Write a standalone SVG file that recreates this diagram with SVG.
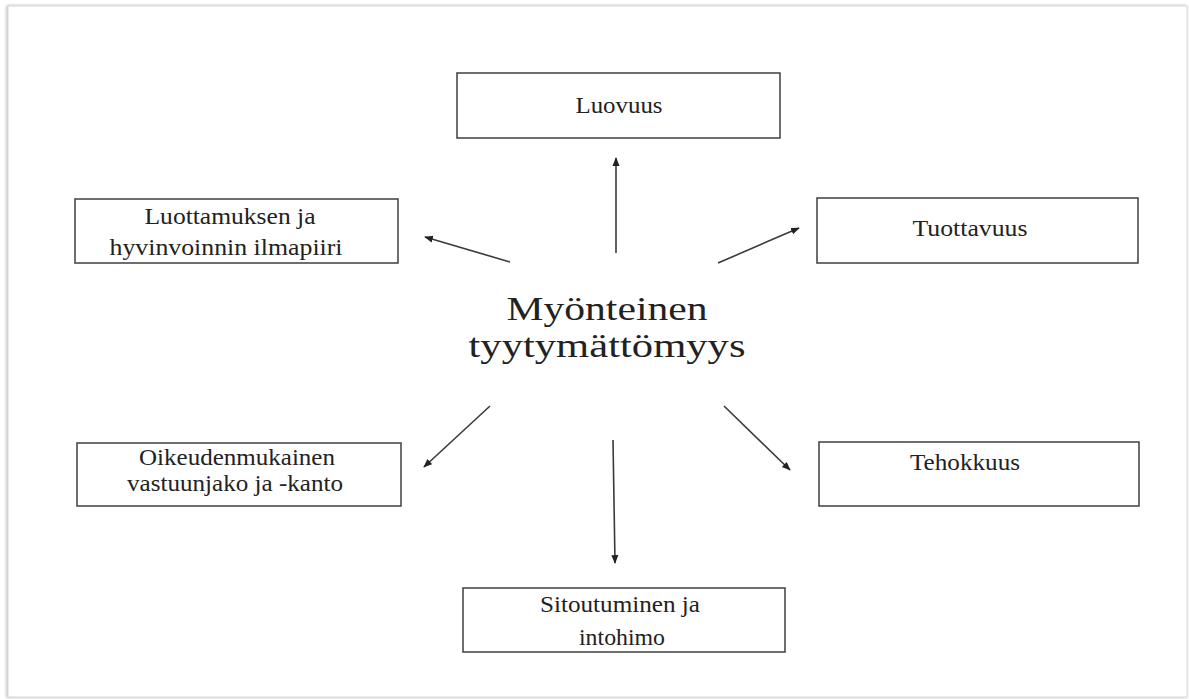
<svg xmlns="http://www.w3.org/2000/svg" width="1189" height="699" viewBox="0 0 1189 699">
<defs>
<style>
.box{fill:#fff;stroke:#4a4a4a;stroke-width:1.6}
.lbl{font-family:"Liberation Serif","Times New Roman",serif;font-size:23px;fill:#222;text-anchor:middle}
.big{font-family:"Liberation Serif","Times New Roman",serif;font-size:33px;fill:#222;text-anchor:middle}
.arr{stroke:#3a3a3a;stroke-width:1.6;fill:none;marker-end:url(#ah)}
</style>
<marker id="ah" viewBox="0 0 10 10" refX="9" refY="5" markerWidth="5.5" markerHeight="5.5" orient="auto" markerUnits="strokeWidth">
<path d="M0,1 L10,5 L0,9 z" fill="#222"/>
</marker>
<filter id="sh" x="-2%" y="-2%" width="104%" height="104%">
<feDropShadow dx="-1" dy="0" stdDeviation="1.5" flood-color="#888" flood-opacity="0.6"/>
</filter>
</defs>
<rect width="1189" height="699" fill="#fff"/>
<rect id="page" x="8" y="6" width="1179" height="691" fill="#fff" stroke="#d8d8d8" stroke-width="1" filter="url(#sh)"/>

<g id="connectors">
<line class="arr" x1="616" y1="253" x2="616" y2="158"/>
<line class="arr" x1="510" y1="262" x2="425" y2="237"/>
<line class="arr" x1="718" y1="263" x2="799" y2="228"/>
<line class="arr" x1="490" y1="406" x2="424" y2="467"/>
<line class="arr" x1="724" y1="406" x2="790" y2="470"/>
<line class="arr" x1="613" y1="440" x2="615" y2="563"/>
</g>

<g id="center">
<text class="big" x="607" y="320" textLength="201" lengthAdjust="spacingAndGlyphs">Myönteinen</text>
<text class="big" x="607" y="357" textLength="277" lengthAdjust="spacingAndGlyphs">tyytymättömyys</text>
</g>

<g id="luovuus">
<rect class="box" x="457" y="73" width="323" height="65"/>
<text class="lbl" x="619" y="113" textLength="87" lengthAdjust="spacingAndGlyphs">Luovuus</text>
</g>

<g id="luottamus">
<rect class="box" x="75" y="199" width="323" height="64"/>
<text class="lbl" x="230" y="224" textLength="171" lengthAdjust="spacingAndGlyphs">Luottamuksen ja</text>
<text class="lbl" x="226" y="255" textLength="233" lengthAdjust="spacingAndGlyphs">hyvinvoinnin ilmapiiri</text>
</g>

<g id="tuottavuus">
<rect class="box" x="817" y="198" width="321" height="65"/>
<text class="lbl" x="970" y="236" textLength="115" lengthAdjust="spacingAndGlyphs">Tuottavuus</text>
</g>

<g id="oikeudenmukainen">
<rect class="box" x="77" y="443" width="324" height="63"/>
<text class="lbl" x="237" y="465" textLength="196" lengthAdjust="spacingAndGlyphs">Oikeudenmukainen</text>
<text class="lbl" x="235" y="491" textLength="216" lengthAdjust="spacingAndGlyphs">vastuunjako ja -kanto</text>
</g>

<g id="tehokkuus">
<rect class="box" x="819" y="442" width="320" height="64"/>
<text class="lbl" x="965" y="470" textLength="110" lengthAdjust="spacingAndGlyphs">Tehokkuus</text>
</g>

<g id="sitoutuminen">
<rect class="box" x="463" y="588" width="322" height="64"/>
<text class="lbl" x="620" y="612" textLength="160" lengthAdjust="spacingAndGlyphs">Sitoutuminen ja</text>
<text class="lbl" x="622" y="645" textLength="86" lengthAdjust="spacingAndGlyphs">intohimo</text>
</g>
</svg>
